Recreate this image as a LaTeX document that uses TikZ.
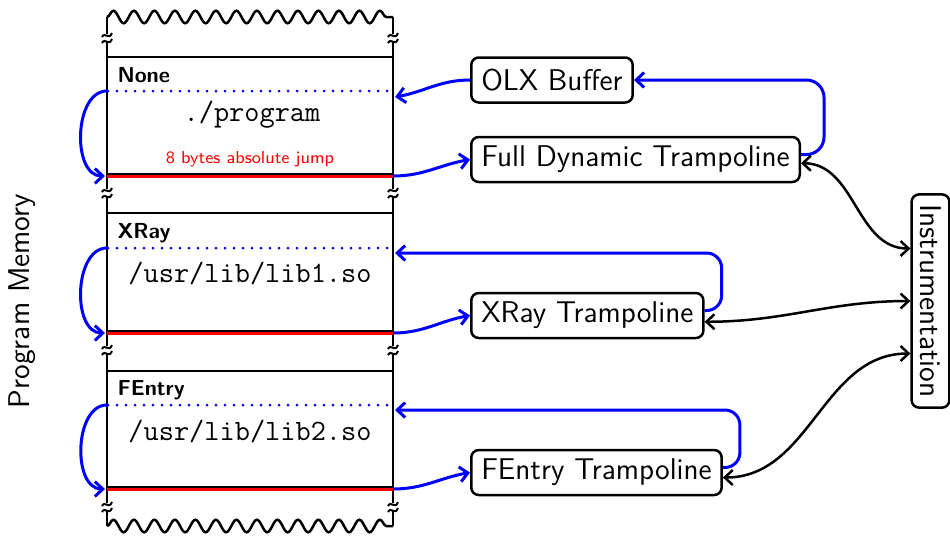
\documentclass[tikz,border=0pt]{standalone}
\usepackage{fontspec}
\usetikzlibrary{arrows.meta,decorations.pathmorphing}
\begin{document}
\begin{tikzpicture}[x=0.4pt,y=-0.4pt,
  mem/.style={line width=1pt},
  box/.style={draw,line width=1pt,rounded corners=3pt,font=\sffamily\fontsize{12}{14}\selectfont,inner xsep=4pt,minimum height=18pt},
  bluearr/.style={blue,line width=1.2pt,-{Straight Barb[length=3.2pt,width=6pt]}},
  blkarr/.style={black,line width=1pt,{Straight Barb[length=3.2pt,width=6pt]}-{Straight Barb[length=3.2pt,width=6pt]}},
  lbl/.style={font=\sffamily\bfseries\fontsize{8.7}{10}\selectfont,anchor=west,inner sep=0pt},
  fname/.style={font=\ttfamily\fontsize{11.8}{13}\selectfont,inner sep=0pt},
  dotline/.style={blue,line width=1.2pt,dash pattern=on 0pt off 3.6pt,line cap=round},
  brk/.pic={\fill[white] (-7,-4) rectangle (7,4);
    \draw[line width=0.8pt] (-5,-1) .. controls (-2,-7) and (2,3) .. (5,-5);
    \draw[line width=0.8pt] (-5,5) .. controls (-2,-1) and (2,9) .. (5,1);}
]
\useasboundingbox (0,0) rectangle (950,535);

% memory column
\draw[mem,decorate,decoration={snake,segment length=8.2pt,amplitude=2.5pt}] (107,17) -- (393,17);
\draw[mem,decorate,decoration={snake,segment length=8.2pt,amplitude=2.5pt}] (107,526) -- (393,526);
\draw[mem] (107,17) -- (107,526);
\draw[mem] (393,17) -- (393,526);
\foreach \yy in {38,193,350,507}{
  \pic at (107,\yy) {brk};
  \pic at (393,\yy) {brk};
}
\draw[mem] (107,57) -- (393,57);
\draw[mem] (107,213) -- (393,213);
\draw[mem] (107,371) -- (393,371);
\foreach \yy in {174,331,487}{
  \draw[mem] (107,\yy) -- (393,\yy);
  \draw[red,line width=0.9pt] (107,\yy+2.5) -- (393,\yy+2.5);
}
\draw[dotline] (108,91) -- (393,91);
\draw[dotline] (108,248) -- (393,248);
\draw[dotline] (108,405) -- (393,405);

% texts in memory
\node[lbl] (l1) at (117,75) {None};
\node[fname] (p1) at (252,115) {./program};
\node[red,font=\sffamily\fontsize{6.9}{8}\selectfont,inner sep=0pt] (j1) at (250,159) {8 bytes absolute jump};
\node[lbl] (l2) at (117,233) {XRay};
\node[fname] (p2) at (250,273) {/usr/lib/lib1.so};
\node[lbl] (l3) at (117,390) {FEntry};
\node[fname] (p3) at (250,431) {/usr/lib/lib2.so};

\node[rotate=90,font=\sffamily\fontsize{12}{14}\selectfont] (pm) at (22,301) {Program Memory};

% coordinates on memory
\coordinate (d1L) at (107,91);  \coordinate (d1R) at (395,97);
\coordinate (r1L) at (105,176); \coordinate (r1R) at (393,176);
\coordinate (d2L) at (107,248); \coordinate (d2R) at (395,253);
\coordinate (r2L) at (105,333); \coordinate (r2R) at (393,333);
\coordinate (d3L) at (107,405); \coordinate (d3R) at (395,410);
\coordinate (r3L) at (105,489); \coordinate (r3R) at (393,489);

% boxes
\node[box,anchor=west] (olx) at (470,80) {OLX Buffer};
\node[box,anchor=west] (fdt) at (470,159.5) {Full Dynamic Trampoline};
\node[box,anchor=west] (xr) at (470,315.5) {XRay Trampoline};
\node[box,anchor=west] (fe) at (470,472.5) {FEntry Trampoline};
\node[box,minimum height=0pt,rotate=-90] (ins) at (930.5,301) {Instrumentation};

% left loops
\draw[bluearr] (d1L) to[out=180,in=180,looseness=1] (r1L);
\draw[bluearr] (d2L) to[out=180,in=180,looseness=1] (r2L);
\draw[bluearr] (d3L) to[out=180,in=180,looseness=1] (r3L);

% right blue arrows
\draw[bluearr] (r1R) to[out=0,in=190] (fdt.west);
\draw[bluearr] (olx.west) to[out=180,in=10] (d1R);
\draw[bluearr,rounded corners=7pt] ([yshift=2pt]fdt.east) -- ++(23,0) |- (olx.east);
\draw[bluearr] (r2R) to[out=0,in=190] (xr.west);
\draw[bluearr,rounded corners=6pt] ([yshift=2pt]xr.east) -- ++(17,0) |- (d2R);
\draw[bluearr] (r3R) to[out=0,in=190] (fe.west);
\draw[bluearr,rounded corners=6pt] ([yshift=2pt]fe.east) -- ++(17,0) |- (d3R);

% black double arrows
\draw[blkarr] ([yshift=-1.5pt]fdt.east) to[out=0,in=180] ([yshift=21pt]ins.south);
\draw[blkarr] ([yshift=-2.5pt]xr.east) to[out=0,in=180] (ins.south);
\draw[blkarr] ([yshift=-2pt]fe.east) to[out=0,in=180] ([yshift=-21pt]ins.south);
\end{tikzpicture}
\end{document}
